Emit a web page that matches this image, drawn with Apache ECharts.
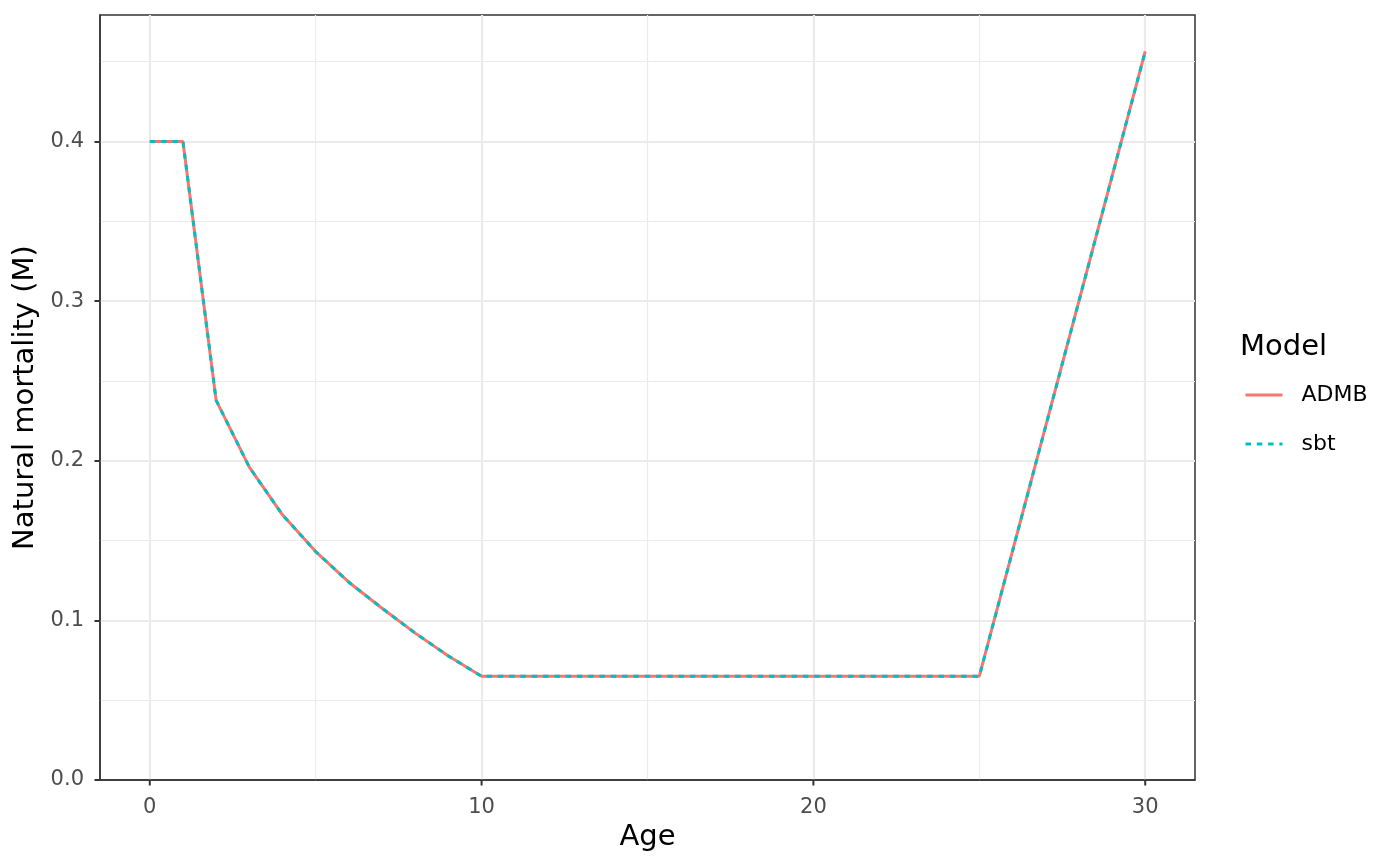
<!DOCTYPE html>
<html><head><meta charset="utf-8">
<script src="https://cdn.jsdelivr.net/npm/echarts@6/dist/echarts.min.js"></script>
<style>html,body{margin:0;padding:0;background:#fff}#c{width:1400px;height:865px}</style>
</head><body><div id="c"></div>
<script>
const ages = [0,1,2,3,4,5,6,7,8,9,10,11,12,13,14,15,16,17,18,19,20,21,22,23,24,25,26,27,28,29,30];
const admb = [0.4,0.4,0.2378,0.196,0.1661,0.1431,0.1239,0.1076,0.092,0.0777,0.065,0.065,0.065,0.065,0.065,0.065,0.065,0.065,0.065,0.065,0.065,0.065,0.065,0.065,0.065,0.065,0.1433,0.2216,0.2998,0.3781,0.4564];
const sbt  = [0.4,0.4,0.2378,0.196,0.1661,0.1431,0.1239,0.1076,0.092,0.0777,0.065,0.065,0.065,0.065,0.065,0.065,0.065,0.065,0.065,0.065,0.065,0.065,0.065,0.065,0.065,0.065,0.1433,0.2216,0.2998,0.3781,0.4564];
const xTicks = [0,10,20,30];
const xMinor = [5,15,25];
const yTicks = [0,0.1,0.2,0.3,0.4];
const yMinor = [0.05,0.15,0.25,0.35,0.45];

const FONT = 'DejaVu Sans';
const GRID = '#EBEBEB';
const gridLines = []
  .concat(xMinor.map(v => ({xAxis: v, lineStyle: {color: GRID, width: 1.2, type: 'solid'}})))
  .concat(yMinor.map(v => ({yAxis: v, lineStyle: {color: GRID, width: 1.2, type: 'solid'}})))
  .concat(xTicks.map(v => ({xAxis: v, lineStyle: {color: GRID, width: 2.2, type: 'solid'}})))
  .concat(yTicks.filter(v => v > 0).map(v => ({yAxis: v, lineStyle: {color: GRID, width: 2.2, type: 'solid'}})));

const chart = echarts.init(document.getElementById('c'));
chart.setOption({
  animation: false,
  backgroundColor: '#fff',
  textStyle: {fontFamily: FONT},
  title: {
    text: 'Model', left: 1240, top: 333, padding: 0,
    textStyle: {fontFamily: FONT, fontSize: 29, fontWeight: 'normal', color: '#000'}
  },
  legend: {
    data: ['ADMB', 'sbt'],
    orient: 'vertical', left: 1244, top: 384, padding: 0,
    itemWidth: 37, itemHeight: 20, itemGap: 27,
    itemStyle: {opacity: 0},
    lineStyle: {width: 3},
    textStyle: {fontFamily: FONT, fontSize: 22, color: '#000', padding: [0, 0, 0, 14]}
  },
  grid: {
    left: 100, top: 15, width: 1095, height: 765,
    show: true, borderColor: '#333333', borderWidth: 1.5, backgroundColor: 'transparent'
  },
  xAxis: {
    type: 'value', min: -1.5, max: 31.5, z: 6,
    axisLine: {show: true, onZero: false, lineStyle: {color: '#333333', width: 1.5}},
    axisTick: {show: false},
    axisLabel: {customValues: xTicks, color: '#4D4D4D', fontSize: 21, fontFamily: FONT, margin: 17},
    splitLine: {show: false},
    name: 'Age', nameLocation: 'middle', nameGap: 40,
    nameTextStyle: {fontFamily: FONT, fontSize: 29, color: '#000'}
  },
  yAxis: {
    type: 'value', min: 0, max: 0.4792, z: 6,
    axisLine: {show: true, onZero: false, lineStyle: {color: '#333333', width: 1.5}},
    axisTick: {show: true, customValues: yTicks, length: 5.5, lineStyle: {color: '#333333', width: 2}},
    axisLabel: {customValues: yTicks, color: '#4D4D4D', fontSize: 21, fontFamily: FONT, margin: 16,
      formatter: v => v.toFixed(1)},
    splitLine: {show: false},
    name: 'Natural mortality (M)', nameLocation: 'middle', nameGap: 54,
    nameTextStyle: {fontFamily: FONT, fontSize: 29, color: '#000'}
  },
  series: [
    {
      name: 'grid', type: 'line', data: [], silent: true, z: 0,
      markLine: {silent: true, symbol: ['none', 'none'], label: {show: false}, z: 1,
        animation: false, emphasis: {disabled: true}, data: gridLines}
    },
    {
      name: 'xticks', type: 'custom', clip: false, silent: true, z: 6,
      data: xTicks.map(v => [v, 0]),
      renderItem: function (params, api) {
        const p = api.coord([api.value(0), api.value(1)]);
        return {type: 'line', shape: {x1: p[0], y1: p[1], x2: p[0], y2: p[1] + 5.5},
          style: {stroke: '#333333', lineWidth: 2}};
      }
    },
    {
      name: 'ADMB', type: 'line', z: 3,
      data: ages.map((a, i) => [a, admb[i]]),
      showSymbol: false, symbol: 'none',
      lineStyle: {color: '#F8766D', width: 3, type: 'solid'},
      itemStyle: {color: '#F8766D'}
    },
    {
      name: 'sbt', type: 'line', z: 4,
      data: ages.map((a, i) => [a, sbt[i]]),
      showSymbol: false, symbol: 'none',
      lineStyle: {color: '#00BFC4', width: 3, type: [5.5, 5.8]},
      itemStyle: {color: '#00BFC4'}
    }
  ]
});
</script></body></html>
